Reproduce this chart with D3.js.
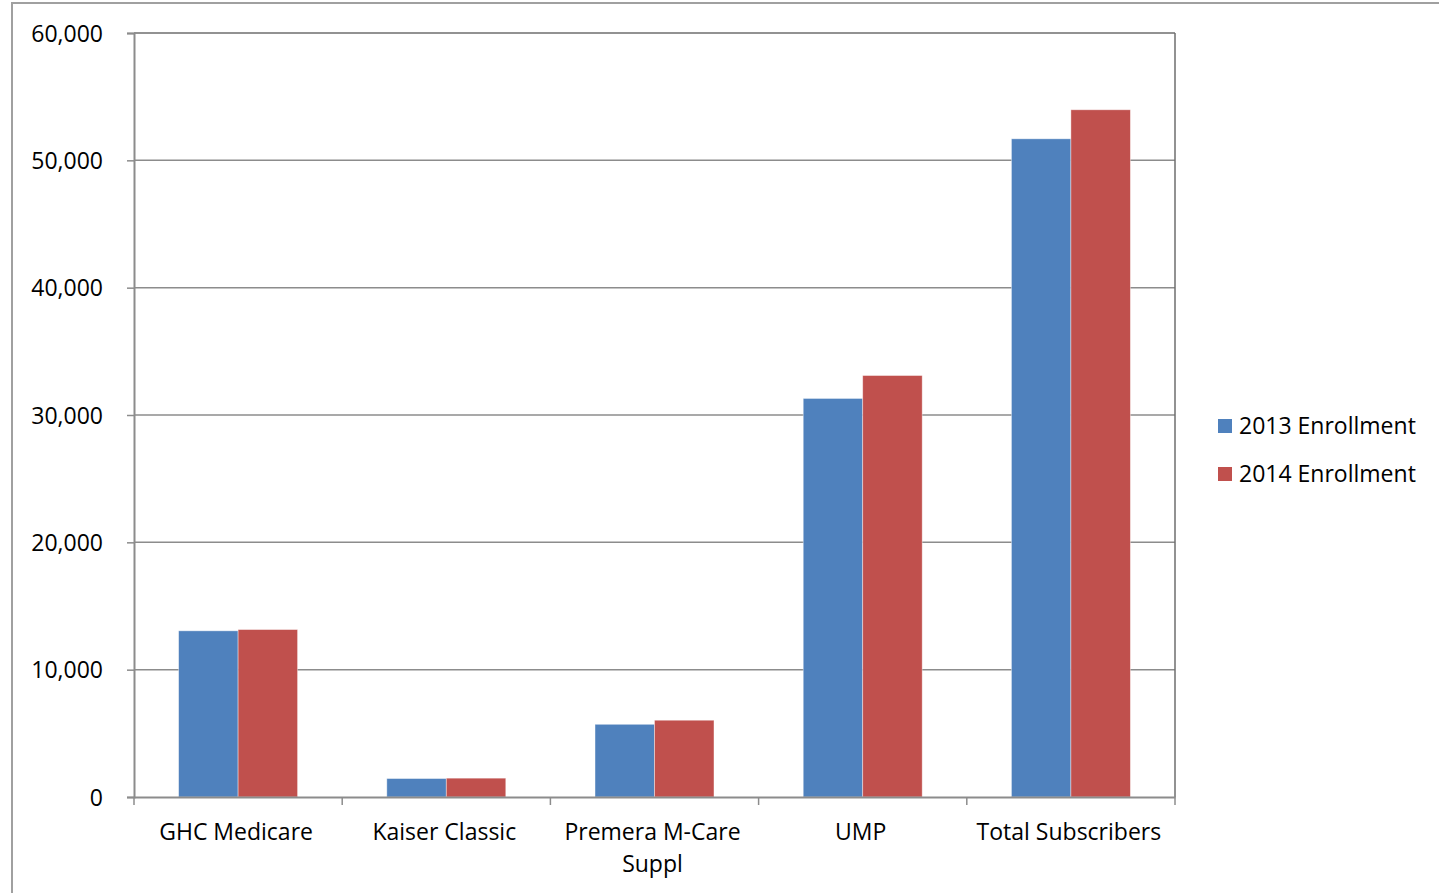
<!DOCTYPE html>
<html>
<head>
<meta charset="utf-8">
<script src="https://cdn.jsdelivr.net/npm/d3@7"></script>
<style>
  body { margin: 0; background: #fff; }
  svg text { font-family: "Open Sans", sans-serif; fill: #000; }
</style>
</head>
<body>
<div id="chart"></div>
<script>
// ---------- data ----------
var categories = ["GHC Medicare", "Kaiser Classic", "Premera M-Care Suppl", "UMP", "Total Subscribers"];
var seriesNames = ["2013 Enrollment", "2014 Enrollment"];
var enroll2013 = [13050, 1450, 5710, 31300, 51690];
var enroll2014 = [13150, 1480, 6030, 33100, 53970];
var yTicks = [0, 10000, 20000, 30000, 40000, 50000, 60000];
var colors = ["#4f81bd", "#c0504d"];

// ---------- layout ----------
var W = 1439, H = 893;
var plot = {left: 134, top: 33, right: 1175, bottom: 797};
var fs = 23;

var svg = d3.select("#chart").append("svg")
  .attr("width", W).attr("height", H);

// outer chart frame (runs off right/bottom edge)
svg.append("rect")
  .attr("x", 12).attr("y", 3)
  .attr("width", W).attr("height", H)
  .attr("fill", "none").attr("stroke", "#a0a0a0").attr("stroke-width", 2);

var x = d3.scaleBand().domain(categories).range([plot.left, plot.right]);
var xInner = d3.scaleBand().domain(seriesNames).range([0, x.bandwidth()]).paddingInner(0).paddingOuter(0.75);
var y = d3.scaleLinear().domain([0, 60000]).range([plot.bottom, plot.top]);

// gridlines
svg.append("g").selectAll("line").data(yTicks.slice(1, -1)).join("line")
  .attr("x1", plot.left).attr("x2", plot.right)
  .attr("y1", d => y(d)).attr("y2", d => y(d))
  .attr("stroke", "#8c8c8c").attr("stroke-width", 1.5);

// bars
var rows = categories.map((c, i) => ({cat: c, vals: [enroll2013[i], enroll2014[i]]}));
var grp = svg.append("g").selectAll("g").data(rows).join("g")
  .attr("transform", d => "translate(" + x(d.cat) + ",0)");
grp.selectAll("rect").data(d => d.vals.map((v, j) => ({v: v, s: seriesNames[j], j: j}))).join("rect")
  .attr("x", d => xInner(d.s))
  .attr("width", xInner.bandwidth())
  .attr("y", d => y(d.v))
  .attr("height", d => y(0) - y(d.v))
  .attr("fill", d => colors[d.j])
  .attr("stroke", "#fff").attr("stroke-opacity", 0.5).attr("stroke-width", 0.8);

// plot border (top/right darker)
svg.append("line").attr("x1", plot.left).attr("x2", plot.right).attr("y1", plot.top).attr("y2", plot.top)
  .attr("stroke", "#6e6e6e").attr("stroke-width", 1.5);
svg.append("line").attr("x1", plot.right).attr("x2", plot.right).attr("y1", plot.top).attr("y2", plot.bottom)
  .attr("stroke", "#6e6e6e").attr("stroke-width", 1.5);

// y axis
var yAxis = d3.axisLeft(y).tickValues(yTicks).tickSize(7).tickPadding(24)
  .tickFormat(d3.format(","));
var gy = svg.append("g").attr("transform", "translate(" + plot.left + ",0)").call(yAxis);
gy.select(".domain").attr("stroke", "#8c8c8c").attr("stroke-width", 2);
gy.selectAll(".tick line").attr("stroke", "#8c8c8c").attr("stroke-width", 1.5);
gy.selectAll(".tick text").attr("font-size", fs).attr("font-family", "Open Sans").attr("dy", "0.35em");

// x axis
var xAxis = d3.axisBottom(x).tickSize(0).tickPadding(0).tickFormat("");
var gx = svg.append("g").attr("transform", "translate(0," + plot.bottom + ")").call(xAxis);
gx.select(".domain").attr("stroke", "#8c8c8c").attr("stroke-width", 2);
gx.selectAll(".tick").remove();
// category boundary ticks
var bounds = categories.map(c => x(c)).concat([plot.right]);
gx.selectAll("line.sep").data(bounds).join("line").attr("class", "sep")
  .attr("x1", d => d).attr("x2", d => d).attr("y1", 0).attr("y2", 8)
  .attr("stroke", "#8c8c8c").attr("stroke-width", 1.5);

// category labels (wrap Premera like the original)
var labelLines = {"Premera M-Care Suppl": ["Premera M-Care", "Suppl"]};
categories.forEach(function(c) {
  var lines = labelLines[c] || [c];
  var t = svg.append("text")
    .attr("x", x(c) + x.bandwidth() / 2 - 2)
    .attr("y", 840)
    .attr("text-anchor", "middle")
    .attr("font-size", fs);
  lines.forEach(function(l, k) {
    t.append("tspan").attr("x", x(c) + x.bandwidth() / 2 - 2).attr("dy", k === 0 ? 0 : 32).text(l);
  });
});

// legend
var leg = svg.append("g").selectAll("g").data(seriesNames).join("g")
  .attr("transform", (d, i) => "translate(1218," + (419 + i * 48) + ")");
leg.append("rect").attr("width", 14).attr("height", 14).attr("fill", (d, i) => colors[i]);
leg.append("text").attr("x", 21).attr("y", 7).attr("dy", "0.36em")
  .attr("font-size", fs).text(d => d);
</script>
</body>
</html>
